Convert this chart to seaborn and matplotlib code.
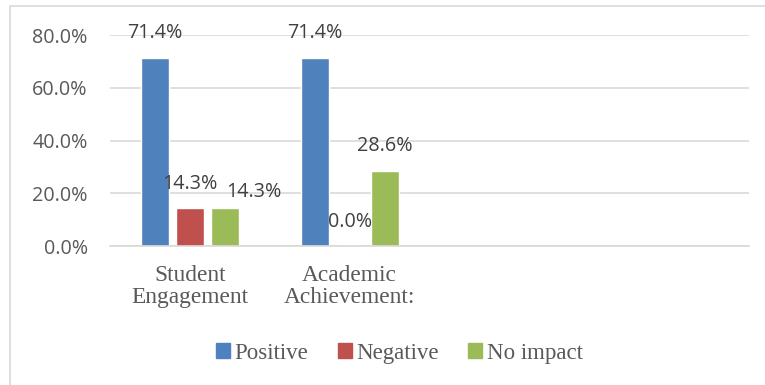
import matplotlib
matplotlib.use("Agg")
import matplotlib.pyplot as plt
import seaborn as sns
import pandas as pd
from matplotlib.patches import Rectangle

# data
categories = ["Student\nEngagement", "Academic\nAchievement:"]
series = ["Positive", "Negative", "No impact"]
positive = [0.714, 0.714]
negative = [0.143, 0.0]
no_impact = [0.143, 0.286]
colors = ["#4f81bd", "#c0504d", "#9bbb59"]

rows = []
for name, vals in zip(series, [positive, negative, no_impact]):
    for cat, v in zip(categories, vals):
        rows.append({"category": cat, "impact": name, "share": v})
df = pd.DataFrame(rows)

sns.set_theme(style="white")
sans = ["Open Sans", "DejaVu Sans"]
serif = ["Liberation Serif", "DejaVu Serif"]

fig = plt.figure(figsize=(7.65, 3.85), dpi=100)
ax = fig.add_axes([0.1438, 0.361, 0.979 - 0.1438, 0.909 - 0.361])

sns.barplot(data=df, x="category", y="share", hue="impact", order=categories,
            hue_order=series, palette=colors, width=0.656, gap=0.2,
            saturation=1, ax=ax, legend=True)

ax.set_xlim(-0.5, 3.5)
ax.set_ylim(0, 0.8)
ax.set_yticks([0, 0.2, 0.4, 0.6, 0.8])
ax.set_yticklabels([f"{t*100:.1f}%" for t in [0, 0.2, 0.4, 0.6, 0.8]],
                   family=sans, fontsize=14.2, color="#595959")
ax.set_xticks(range(len(categories)))
ax.set_xticklabels(categories, family=serif, fontsize=16.8, color="#595959",
                   linespacing=1.05)
ax.tick_params(axis="y", length=0, pad=16)
ax.tick_params(axis="x", length=0, pad=14)
ax.set_xlabel("")
ax.set_ylabel("")
ax.yaxis.grid(True, color="#d9d9d9", linewidth=1.2)
ax.set_axisbelow(True)
for side in ["left", "right", "top"]:
    ax.spines[side].set_visible(False)
ax.spines["bottom"].set_color("#d9d9d9")
ax.spines["bottom"].set_linewidth(1.2)

# data labels (Excel placed one of them off to the side)
nudges = {(2, 0): (0.185, -0.03)}
for s_i, cont in enumerate(ax.containers):
    for c_i, bar in enumerate(cont):
        h = bar.get_height()
        dx, dy = nudges.get((s_i, c_i), (0, 0))
        ax.text(bar.get_x() + bar.get_width() / 2 + dx, h + 0.092 + dy,
                f"{h*100:.1f}%", ha="center", va="center", family=sans,
                fontsize=14.2, color="#404040", clip_on=False)

ax.get_legend().remove()
handles = [Rectangle((0, 0), 1, 1, color=c) for c in colors]
fig.legend(handles, series, loc="center", bbox_to_anchor=(0.522, 0.083),
           ncol=3, frameon=False, prop={"family": serif, "size": 16.5},
           labelcolor="#595959", handlelength=0.6, handleheight=0.6,
           handletextpad=0.2, columnspacing=1.3)

fig.patches.append(Rectangle((10 / 765, -0.05), 1.2, 1 - 6 / 385 + 0.05,
                             transform=fig.transFigure, fill=False,
                             edgecolor="#d9d9d9", linewidth=1.2))

fig.savefig("out.png", dpi=100)
